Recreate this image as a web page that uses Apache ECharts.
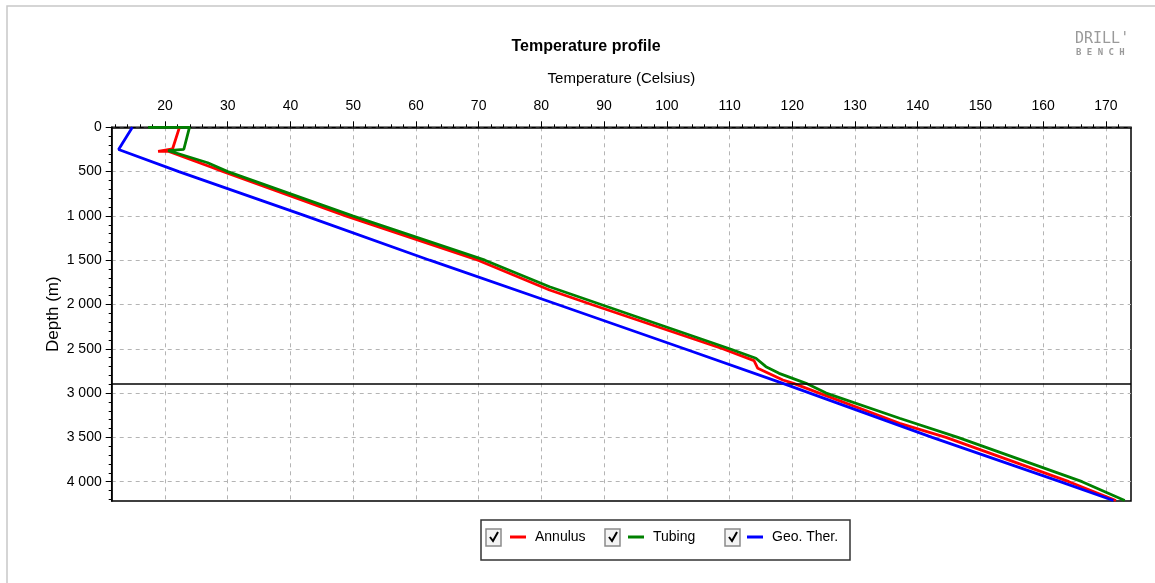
<!DOCTYPE html>
<html>
<head>
<meta charset="utf-8">
<script src="https://cdn.jsdelivr.net/npm/echarts@6/dist/echarts.min.js"></script>
<style>
html,body{margin:0;padding:0;background:#fff;}
#chart{width:1155px;height:583px;}
</style>
</head>
<body>
<div id="chart"></div>
<script>
// ---- data ----
const seriesNames = ['Annulus', 'Tubing', 'Geo. Ther.'];
const seriesColors = ['#ff0000', '#008000', '#0000ff'];

const annulusDepth = [0, 245, 272, 272, 445, 500, 1000, 1500, 1836, 2000, 2500, 2634, 2720, 2852, 2890, 3000, 3341, 3500, 4000, 4212];
const annulusTemp  = [22.3, 21.2, 18.9, 20.6, 27.2, 29.3, 48.8, 69.9, 81.3, 88.0, 108.9, 113.9, 114.5, 118.5, 120.2, 124.3, 137.1, 144.5, 164.1, 171.6];

const tubingDepth = [0, 0, 248, 264, 293, 400, 500, 1000, 1500, 1800, 2000, 2500, 2607, 2702, 2777, 2890, 3000, 3284, 3500, 4000, 4212];
const tubingTemp  = [17.3, 23.9, 23.0, 20.5, 21.9, 26.8, 30.0, 49.9, 71.0, 81.3, 89.5, 110.0, 114.2, 115.8, 117.9, 122.2, 125.4, 137.1, 146.4, 166.2, 173.0];

const geoDepth = [0, 250, 500, 1000, 1500, 2000, 2500, 2890, 3500, 4000, 4212];
const geoTemp  = [14.8, 12.6, 22.2, 42.4, 62.2, 82.6, 102.8, 118.5, 142.3, 162.7, 171.2];

const referenceDepths = [2890];

const tempMajorTicks = [20, 30, 40, 50, 60, 70, 80, 90, 100, 110, 120, 130, 140, 150, 160, 170];
const tempMinorTicks = [12, 14, 16, 18, 20, 22, 24, 26, 28, 30, 32, 34, 36, 38, 40, 42, 44, 46, 48, 50, 52, 54, 56, 58, 60, 62, 64, 66, 68, 70, 72, 74, 76, 78, 80, 82, 84, 86, 88, 90, 92, 94, 96, 98, 100, 102, 104, 106, 108, 110, 112, 114, 116, 118, 120, 122, 124, 126, 128, 130, 132, 134, 136, 138, 140, 142, 144, 146, 148, 150, 152, 154, 156, 158, 160, 162, 164, 166, 168, 170, 172];
const depthMajorTicks = [0, 500, 1000, 1500, 2000, 2500, 3000, 3500, 4000];
const depthMinorTicks = [0, 100, 200, 300, 400, 500, 600, 700, 800, 900, 1000, 1100, 1200, 1300, 1400, 1500, 1600, 1700, 1800, 1900, 2000, 2100, 2200, 2300, 2400, 2500, 2600, 2700, 2800, 2900, 3000, 3100, 3200, 3300, 3400, 3500, 3600, 3700, 3800, 3900, 4000, 4100, 4200];

const tempMin = 11.5, tempMax = 174;
const depthMin = 0, depthMax = 4218;

// ---- build ----
function zip(t, d) { return t.map((v, i) => [v, d[i]]); }
const seriesData = [zip(annulusTemp, annulusDepth), zip(tubingTemp, tubingDepth), zip(geoTemp, geoDepth)];

const FONT = "'Liberation Sans', Arial, sans-serif";
const fmtDepth = v => v >= 1000 ? Math.floor(v / 1000) + ' ' + String(v % 1000).padStart(3, '0') : String(v);

const chart = echarts.init(document.getElementById('chart'), null, {renderer: 'canvas'});

const legendLefts = [510, 628, 747];
const checkLefts = [486, 605, 725];

const graphics = [
  {type: 'rect', shape: {x: 7, y: 6, width: 1160, height: 600}, style: {fill: 'none', stroke: '#c8c8c8', lineWidth: 1.5}, silent: true},
  {type: 'rect', shape: {x: 481, y: 520, width: 369, height: 40}, style: {fill: 'none', stroke: '#333', lineWidth: 1.5}, silent: true},
  {type: 'text', x: 1075, y: 32, style: {text: "DRILL'", font: "15px 'DejaVu Sans Mono', monospace", fill: '#9a9a9a'}, silent: true},
  {type: 'text', x: 1076, y: 48, style: {text: 'B E N C H', font: "bold 9px 'DejaVu Sans Mono', monospace", fill: '#9a9a9a'}, silent: true}
];
checkLefts.forEach(x => {
  graphics.push({type: 'rect', shape: {x: x, y: 529, width: 15, height: 17}, style: {fill: '#f4f4f4', stroke: '#8a8a8a', lineWidth: 1.5}, silent: true});
  graphics.push({type: 'polyline', shape: {points: [[x + 4, 537], [x + 7, 541], [x + 12, 532]]}, style: {stroke: '#000', lineWidth: 2, fill: 'none'}, silent: true});
});

const option = {
  animation: false,
  backgroundColor: '#fff',
  title: {
    text: 'Temperature profile',
    left: 581, top: 34, textAlign: 'center',
    textStyle: {fontFamily: FONT, fontSize: 16, fontWeight: 'bold', color: '#000'}
  },
  legend: seriesNames.map((n, i) => ({
    data: [n], left: legendLefts[i], top: 530, padding: 0,
    icon: 'rect', itemWidth: 16, itemHeight: 3, selectedMode: false,
    textStyle: {fontFamily: FONT, fontSize: 14, color: '#000', padding: [0, 0, 0, 4]}
  })),
  grid: {left: 111.7, top: 127.3, width: 1019.3, height: 373.7, show: true, borderColor: '#000', borderWidth: 1.5, backgroundColor: '#fff'},
  xAxis: [
    {
      type: 'value', position: 'top', min: tempMin, max: tempMax,
      name: 'Temperature (Celsius)', nameLocation: 'middle', nameGap: 41,
      nameTextStyle: {fontFamily: FONT, fontSize: 15, color: '#000'},
      axisLine: {show: true, lineStyle: {color: '#000', width: 1.5}},
      axisTick: {show: true, customValues: tempMajorTicks, length: 6, inside: false, lineStyle: {color: '#000'}},
      axisLabel: {customValues: tempMajorTicks, fontFamily: FONT, fontSize: 14, color: '#000', margin: 14},
      splitLine: {show: true, lineStyle: {color: '#b4b4b4', type: [4, 4], width: 1}}
    },
    {
      type: 'value', position: 'top', min: tempMin, max: tempMax,
      axisLine: {show: false},
      axisTick: {show: true, customValues: tempMinorTicks, length: 3, lineStyle: {color: '#000'}},
      axisLabel: {show: false},
      splitLine: {show: false}
    }
  ],
  yAxis: [
    {
      type: 'value', inverse: true, min: depthMin, max: depthMax,
      name: 'Depth (m)', nameLocation: 'middle', nameGap: 50, nameRotate: 90, nameMoveOverlap: false,
      nameTextStyle: {fontFamily: FONT, fontSize: 17, color: '#000'},
      axisLine: {show: true, lineStyle: {color: '#000', width: 1.5}},
      axisTick: {show: true, customValues: depthMajorTicks, length: 6, lineStyle: {color: '#000'}},
      axisLabel: {customValues: depthMajorTicks, formatter: fmtDepth, fontFamily: FONT, fontSize: 14, color: '#000', margin: 10},
      splitLine: {show: true, lineStyle: {color: '#b4b4b4', type: [4, 4], width: 1}}
    },
    {
      type: 'value', inverse: true, min: depthMin, max: depthMax, position: 'left',
      axisLine: {show: false},
      axisTick: {show: true, customValues: depthMinorTicks, length: 3, lineStyle: {color: '#000'}},
      axisLabel: {show: false},
      splitLine: {show: false}
    }
  ],
  series: seriesNames.map((n, i) => ({
    name: n, type: 'line', data: seriesData[i], xAxisIndex: 0, yAxisIndex: 0,
    showSymbol: false, symbol: 'none', z: 3 + i,
    lineStyle: {color: seriesColors[i], width: 2.8},
    itemStyle: {color: seriesColors[i]},
    markLine: i === 0 ? {
      silent: true, symbol: ['none', 'none'], label: {show: false},
      lineStyle: {color: '#000', type: 'solid', width: 1.5},
      data: referenceDepths.map(d => ({yAxis: d}))
    } : undefined
  })),
  graphic: graphics
};
chart.setOption(option);
</script>
</body>
</html>
